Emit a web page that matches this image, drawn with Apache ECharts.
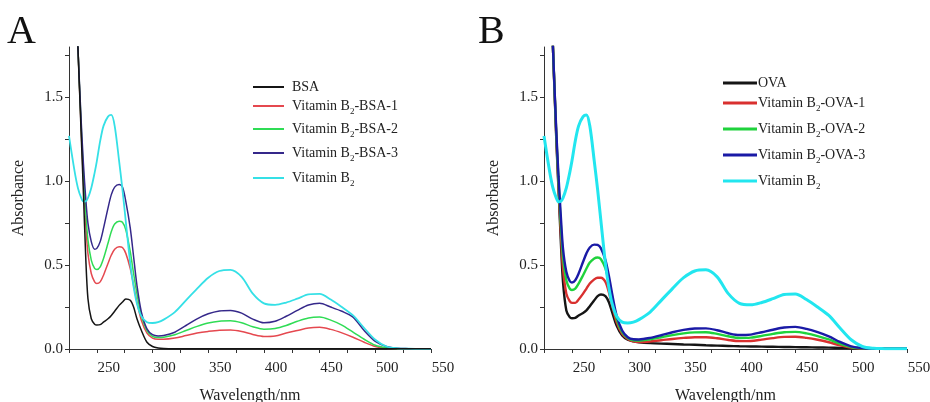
<!DOCTYPE html>
<html>
<head>
<meta charset="utf-8">
<script src="https://cdn.jsdelivr.net/npm/echarts@6/dist/echarts.min.js"></script>
<style>
html,body{margin:0;padding:0;background:#fff;}
#c{width:930px;height:402px;}
</style>
</head>
<body>
<div id="c"></div>
<script>
// Wavelengths (nm)
const wavelengths = [225,230,233,236,238,240,242,245,248,250,253,256,260,263,266,270,273,276,280,283,286,290,295,300,305,310,320,330,340,350,360,370,380,390,400,410,420,430,440,450,460,470,480,490,500,510,520,530,540,550];

// Panel A
const vitB2 = [1.27,1.06,0.96,0.90,0.878,0.88,0.90,0.96,1.05,1.12,1.24,1.33,1.385,1.395,1.33,1.12,0.95,0.76,0.51,0.37,0.27,0.195,0.16,0.155,0.16,0.175,0.22,0.29,0.36,0.425,0.465,0.472,0.43,0.33,0.272,0.263,0.277,0.30,0.325,0.328,0.295,0.25,0.20,0.125,0.055,0.015,0.004,0.002,0.001,0.001];
const bsa = [3.2,2.33,1.8,1.27,0.92,0.55,0.30,0.18,0.148,0.143,0.145,0.16,0.18,0.20,0.225,0.26,0.28,0.298,0.29,0.25,0.18,0.11,0.04,0.015,0.006,0.003,0.002,0.002,0.001,0.001,0.001,0.001,0.001,0.001,0.001,0.001,0.001,0.001,0.001,0.001,0.001,0.001,0.001,0.001,0.001,0.001,0.001,0.001,0.001,0.001];
const b2bsa1 = [3.2,2.33,1.8,1.3,1.0,0.75,0.57,0.45,0.40,0.39,0.40,0.44,0.51,0.56,0.595,0.61,0.605,0.57,0.48,0.38,0.28,0.17,0.095,0.065,0.058,0.058,0.065,0.08,0.095,0.105,0.112,0.113,0.104,0.087,0.075,0.078,0.095,0.11,0.125,0.129,0.117,0.096,0.07,0.04,0.015,0.005,0.002,0.001,0.001,0.001];
const b2bsa2 = [3.2,2.33,1.8,1.32,1.04,0.82,0.65,0.53,0.48,0.474,0.49,0.54,0.63,0.70,0.745,0.762,0.755,0.71,0.58,0.45,0.33,0.20,0.11,0.075,0.068,0.07,0.085,0.11,0.135,0.155,0.166,0.168,0.156,0.133,0.118,0.122,0.14,0.165,0.185,0.19,0.172,0.142,0.10,0.058,0.022,0.007,0.002,0.001,0.001,0.001];
const b2bsa3 = [3.2,2.33,1.8,1.35,1.1,0.9,0.75,0.64,0.595,0.60,0.64,0.72,0.84,0.92,0.965,0.98,0.965,0.88,0.72,0.55,0.38,0.22,0.12,0.085,0.078,0.08,0.10,0.14,0.18,0.21,0.227,0.23,0.214,0.178,0.156,0.165,0.195,0.23,0.262,0.272,0.25,0.225,0.19,0.11,0.045,0.015,0.004,0.002,0.001,0.001];

// Panel B
const ova = [3.2,2.33,1.8,1.25,0.95,0.65,0.40,0.23,0.19,0.183,0.185,0.20,0.215,0.23,0.255,0.29,0.315,0.325,0.315,0.28,0.22,0.14,0.08,0.055,0.045,0.04,0.035,0.032,0.03,0.027,0.025,0.022,0.02,0.018,0.016,0.015,0.014,0.013,0.012,0.011,0.01,0.009,0.008,0.007,0.006,0.005,0.005,0.004,0.004,0.004];
const b2ova1 = [3.2,2.33,1.8,1.27,0.97,0.70,0.48,0.33,0.285,0.275,0.275,0.295,0.33,0.36,0.39,0.415,0.425,0.425,0.40,0.34,0.26,0.16,0.09,0.06,0.045,0.042,0.045,0.052,0.06,0.066,0.07,0.07,0.064,0.054,0.047,0.048,0.056,0.065,0.072,0.073,0.066,0.055,0.04,0.022,0.008,0.003,0.002,0.002,0.002,0.002];
const b2ova2 = [3.2,2.33,1.8,1.28,1.0,0.75,0.55,0.41,0.36,0.352,0.36,0.39,0.44,0.48,0.515,0.54,0.545,0.535,0.48,0.40,0.30,0.18,0.10,0.065,0.052,0.05,0.058,0.07,0.083,0.093,0.099,0.1,0.09,0.076,0.066,0.068,0.078,0.09,0.10,0.102,0.093,0.077,0.057,0.032,0.012,0.004,0.002,0.002,0.002,0.002];
const b2ova3 = [3.2,2.33,1.8,1.3,1.03,0.80,0.60,0.46,0.405,0.396,0.41,0.45,0.52,0.57,0.605,0.622,0.62,0.60,0.53,0.44,0.33,0.20,0.11,0.07,0.058,0.057,0.066,0.082,0.10,0.114,0.122,0.123,0.112,0.094,0.083,0.086,0.10,0.115,0.128,0.132,0.12,0.10,0.075,0.042,0.016,0.005,0.002,0.002,0.002,0.002];

const xTicks = [225,250,275,300,325,350,375,400,425,450,475,500,525,550];
const xLabels = [250,300,350,400,450,500,550];
const yTicks = [0,0.25,0.5,0.75,1.0,1.25,1.5,1.75];
const yLabels = [0,0.5,1.0,1.5];

const namesA = ['BSA','Vitamin B2-BSA-1','Vitamin B2-BSA-2','Vitamin B2-BSA-3','Vitamin B2'];
const namesB = ['OVA','Vitamin B2-OVA-1','Vitamin B2-OVA-2','Vitamin B2-OVA-3','Vitamin B2 '];

const FONT = '"Liberation Serif","Times New Roman",serif';
const pts = arr => wavelengths.map((w,i)=>[w, arr[i]]);

function xAx(gi){
  return {
    type:'value', gridIndex:gi, min:225, max:550,
    axisLine:{show:true,lineStyle:{color:'#333',width:1}},
    axisTick:{show:true,customValues:xTicks,length:4,lineStyle:{color:'#333'}},
    axisLabel:{customValues:xLabels,color:'#222',fontFamily:FONT,fontSize:15,margin:12,padding:[0,0,0,24],
      showMinLabel:true,showMaxLabel:true},
    splitLine:{show:false},
    name:'Wavelength/nm', nameLocation:'middle', nameGap:39,
    nameTextStyle:{fontFamily:FONT,fontSize:16,color:'#222'}
  };
}
function yAx(gi){
  return {
    type:'value', gridIndex:gi, min:0, max:1.8,
    axisLine:{show:true,lineStyle:{color:'#333',width:1}},
    axisTick:{show:true,customValues:yTicks,length:4,lineStyle:{color:'#333'}},
    axisLabel:{customValues:yLabels,color:'#222',fontFamily:FONT,fontSize:15,margin:6,
      formatter:v=>v.toFixed(1)},
    splitLine:{show:false},
    name:'Absorbance', nameLocation:'middle', nameGap:42, nameRotate:90,
    nameTextStyle:{fontFamily:FONT,fontSize:16,color:'#222'}
  };
}

function ser(name, arr, gi, color, w, z){
  return {
    type:'line', name:name, xAxisIndex:gi, yAxisIndex:gi,
    data:pts(arr), showSymbol:false, symbol:'none', smooth:0.3,
    lineStyle:{color:color,width:w}, itemStyle:{color:color}, z:z, clip:true, silent:true
  };
}

const colA = {k:'#151515', r:'#e5484f', g:'#2fdc55', n:'#35288a', c:'#35e0e6'};
const colB = {k:'#151515', r:'#d9302f', g:'#1fd23c', n:'#1a1aa6', c:'#22e6ef'};

const series = [
  ser(namesA[1], b2bsa1, 0, colA.r, 1.5, 2),
  ser(namesA[2], b2bsa2, 0, colA.g, 1.5, 3),
  ser(namesA[3], b2bsa3, 0, colA.n, 1.5, 4),
  ser(namesA[4], vitB2, 0, colA.c, 1.8, 5),
  ser(namesA[0], bsa, 0, colA.k, 1.5, 6),
  ser(namesB[0], ova, 1, colB.k, 2.4, 2),
  ser(namesB[1], b2ova1, 1, colB.r, 2.4, 3),
  ser(namesB[2], b2ova2, 1, colB.g, 2.4, 4),
  ser(namesB[3], b2ova3, 1, colB.n, 2.4, 5),
  ser(namesB[4], vitB2, 1, colB.c, 3, 6)
];

const rich = {
  n:{fontFamily:FONT,fontSize:14,color:'#222',lineHeight:20},
  s:{fontFamily:FONT,fontSize:9,color:'#222',lineHeight:11,verticalAlign:'bottom'}
};
function fmt(name){
  const t = name.trim();
  const i = t.indexOf('B2');
  if(i<0) return '{n|'+t+'}';
  return '{n|'+t.slice(0,i+1)+'}{s|2}{n|'+t.slice(i+2)+'}';
}
function leg(name, left, top, w, h, pad){
  return {
    data:[name], left:left, top:top, orient:'vertical', itemWidth:w, itemHeight:h, icon:'rect',
    padding:0, selectedMode:false,
    textStyle:{rich:rich, padding:[0,0,0,pad]}, formatter:fmt
  };
}
const legTopsA = [80,99,122,146,171];
const legTopsB = [76,96,122,148,174];
const legends = [];
namesA.forEach((n,i)=>legends.push(leg(n,253,legTopsA[i],31,2,3)));
namesB.forEach((n,i)=>legends.push(leg(n,723,legTopsB[i],34,3,-4)));

const chart = echarts.init(document.getElementById('c'), null, {renderer:'canvas'});
chart.setOption({
  animation:false,
  backgroundColor:'#fff',
  grid:[
    {left:69, top:47, width:362, height:302, containLabel:false, outerBoundsMode:'none'},
    {left:544, top:47, width:363, height:302, containLabel:false, outerBoundsMode:'none'}
  ],
  xAxis:[xAx(0), xAx(1)],
  yAxis:[yAx(0), yAx(1)],
  legend:legends,
  series:series,
  graphic:[
    {type:'text', left:7, top:12, style:{text:'A', font:'40px '+FONT, fill:'#111'}},
    {type:'text', left:478, top:12, style:{text:'B', font:'40px '+FONT, fill:'#111'}}
  ]
});
</script>
</body>
</html>
